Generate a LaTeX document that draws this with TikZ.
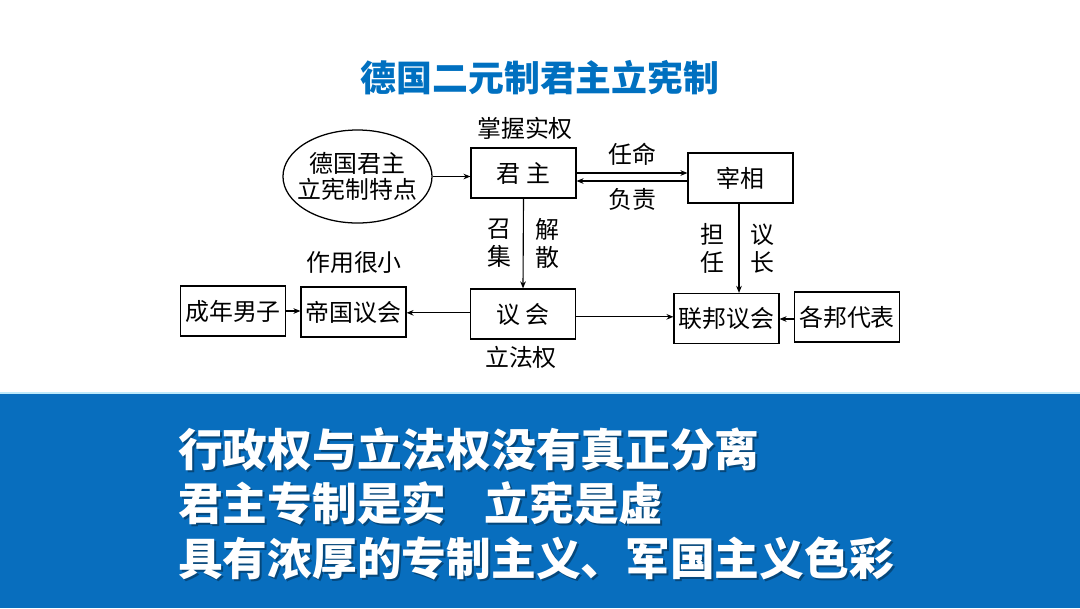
\documentclass[tikz,border=0pt]{standalone}
\usepackage{fontspec}
\setmainfont{Noto Sans CJK SC}
\usetikzlibrary{arrows.meta,shapes.geometric}
\definecolor{titleblue}{RGB}{0,112,192}
\definecolor{bandblue}{RGB}{8,110,190}

\begin{document}
\begin{tikzpicture}[x=0.025cm,y=-0.025cm,
  box/.style={draw,line width=0.9pt,minimum width=2.62cm,minimum height=1.25cm,inner sep=0pt,font=\fontsize{17}{20}\selectfont},
  lbl/.style={font=\fontsize{17}{20}\selectfont,inner sep=0pt},
  vlbl/.style={font=\fontsize{17}{19.9}\selectfont,align=center,inner sep=0pt},
  arr/.style={-{Stealth[length=5pt,width=4pt]},line width=0.8pt},
  big/.style={font=\fontsize{31.8}{36}\selectfont\bfseries,anchor=west,inner sep=0pt}]
  \useasboundingbox (0,0) rectangle (1080,608);
  % Title
  \node[font=\fontsize{25.5}{30}\selectfont\bfseries,text=titleblue] (title) at (540,78) {德国二元制君主立宪制};
  % Ellipse on the left
  \node[draw,ellipse,line width=0.9pt,minimum width=3.725cm,minimum height=2.325cm,inner sep=0pt] (tezheng) at (357.5,176.5) {};
  \node[lbl,align=center,font=\fontsize{17}{18.5}\selectfont] (tezhengtxt) at (tezheng) {德国君主\\立宪制特点};
  % Boxes
  \node[box] (junzhu) at (523.5,173) {君 主};
  \node[box] (zaixiang) at (740.5,178) {宰相};
  \node[box] (yihui) at (523,314) {议 会};
  \node[box] (lianbang) at (726.5,318.5) {联邦议会};
  \node[box] (gebang) at (847,317) {各邦代表};
  \node[box] (diguo) at (353.5,312) {帝国议会};
  \node[box] (chengnian) at (233,311) {成年男子};
  % Labels beside the boxes
  \node[lbl] (zhangwo) at (525,128) {掌握实权};
  \node[lbl] (zuoyong) at (354,263) {作用很小};
  \node[lbl] (lifa) at (521,357) {立法权};
  % Connectors
  \draw[arr] (tezheng.east) -- (tezheng.east -| junzhu.west);
  \draw[arr] (junzhu.east) -- (junzhu.east -| zaixiang.west)
    node[midway,above=5pt,lbl] (renming) {任命};
  \coordinate (jlo) at ([yshift=-0.2cm]junzhu.east);
  \draw[arr] (jlo -| zaixiang.west) -- (jlo)
    node[midway,below=5pt,lbl] (fuze) {负责};
  \draw[arr] (junzhu.south) -- (yihui.north)
    node[midway,left=8pt,vlbl] (zhaoji) {召\\集}
    node[midway,right=8pt,vlbl] (jiesan) {解\\散};
  \draw[arr] (zaixiang.south -| 739,0) -- (lianbang.north -| 739,0)
    node[midway,left=10pt,vlbl] (danren) {担\\任}
    node[midway,right=8pt,vlbl] (yizhang) {议\\长};
  \draw[arr] ([yshift=0.03cm]yihui.west) -- ([yshift=0.03cm]yihui.west -| diguo.east);
  \draw[arr] ([yshift=-0.07cm]yihui.east) -- ([yshift=-0.07cm]yihui.east -| lianbang.west);
  \draw[arr] (chengnian.east) -- (chengnian.east -| diguo.west);
  \draw[arr] ([yshift=-0.05cm]gebang.west) -- ([yshift=-0.05cm]gebang.west -| lianbang.east);
  % Blue band at the bottom
  \fill[bandblue] (0,393) rectangle (1080,608);
  \draw[cyan!25,line width=1pt] (0,393) -- (1080,393);
  % Conclusions, with a soft shadow
  \node[big,text=black,opacity=0.35] (shadowa) at (180,451) {行政权与立法权没有真正分离};
  \node[big,text=white] (linea) at (178,449) {行政权与立法权没有真正分离};
  \node[big,text=black,opacity=0.35] (shadowb) at (180,505) {君主专制是实\hspace{0.85em}立宪是虚};
  \node[big,text=white] (lineb) at (178,503) {君主专制是实\hspace{0.85em}立宪是虚};
  \node[big,text=black,opacity=0.35] (shadowc) at (180,560) {具有浓厚的专制主义、军国主义色彩};
  \node[big,text=white] (linec) at (178,558) {具有浓厚的专制主义、军国主义色彩};
\end{tikzpicture}
\end{document}
